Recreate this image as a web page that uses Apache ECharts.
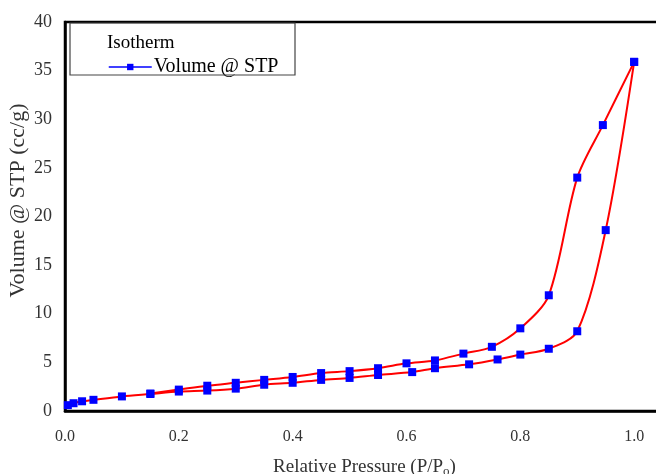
<!DOCTYPE html>
<html>
<head>
<meta charset="utf-8">
<script src="https://cdn.jsdelivr.net/npm/echarts@6/dist/echarts.min.js"></script>
<style>
  html, body { margin: 0; padding: 0; background: #fff; }
  #chart { width: 656px; height: 474px; }
</style>
</head>
<body>
<div id="chart"></div>
<script>
// Nitrogen isotherm: adsorption (rising) and desorption (falling) branches
const adsorptionP = [0.005, 0.015, 0.03, 0.05, 0.10, 0.15, 0.20, 0.25, 0.30, 0.35, 0.40, 0.45, 0.50, 0.55, 0.61, 0.65, 0.71, 0.76, 0.80, 0.85, 0.90, 0.95, 1.00];
const adsorptionV = [0.6, 0.8, 1.0, 1.15, 1.5, 1.75, 2.0, 2.1, 2.3, 2.7, 2.9, 3.2, 3.4, 3.7, 4.0, 4.4, 4.8, 5.3, 5.8, 6.4, 8.2, 18.6, 35.9];
const desorptionP = [1.00, 0.945, 0.90, 0.85, 0.80, 0.75, 0.70, 0.65, 0.60, 0.55, 0.50, 0.45, 0.40, 0.35, 0.30, 0.25, 0.20, 0.15];
const desorptionV = [35.9, 29.4, 24.0, 11.9, 8.5, 6.6, 5.9, 5.2, 4.9, 4.4, 4.1, 3.9, 3.5, 3.2, 2.9, 2.6, 2.2, 1.8];
const xTicks = [0.0, 0.2, 0.4, 0.6, 0.8, 1.0];
const seriesName = 'Volume @ STP';
const legendTitle = 'Isotherm';

const pairs = (xs, ys) => xs.map((x, i) => [x, ys[i]]);
const serif = '"Liberation Serif", "DejaVu Serif", serif';

const lineStyle = { color: '#ff0000', width: 2 };
const markStyle = { color: '#0000ff' };

const chart = echarts.init(document.getElementById('chart'), null, { renderer: 'canvas' });
chart.setOption({
  animation: false,
  backgroundColor: '#ffffff',
  // plot frame runs past the right edge of the canvas
  grid: {
    left: 65, top: 22, width: 683, height: 389,
    outerBoundsMode: 'none', containLabel: false,
    show: true, borderColor: '#000', borderWidth: 2.5, backgroundColor: 'transparent'
  },
  title: {
    text: legendTitle, left: 102, top: 29,
    textStyle: { fontFamily: serif, fontSize: 19, fontWeight: 'normal', color: '#000' }
  },
  legend: {
    data: [seriesName], left: 103, top: 52, itemWidth: 43, itemHeight: 8, itemGap: 4,
    textStyle: { fontFamily: serif, fontSize: 20, color: '#000', padding: [0, 0, 0, -3] },
    lineStyle: { color: '#0000ff', width: 1.5 },
    itemStyle: { color: '#0000ff' }
  },
  graphic: [{
    type: 'rect', shape: { x: 70, y: 23, width: 225, height: 52 },
    style: { fill: 'transparent', stroke: '#444', lineWidth: 1.2 }, z: 10
  }],
  xAxis: {
    type: 'value', min: 0, max: 1.2, interval: 0.2,
    name: '{m|Relative Pressure (P/P}{s|o}{m|)}', nameLocation: 'middle', nameGap: 45,
    nameMoveOverlap: false,
    nameTextStyle: {
      padding: [0, 84, 0, 0],
      rich: {
        m: { fontFamily: serif, fontSize: 19, color: '#333' },
        s: { fontFamily: serif, fontSize: 13, color: '#333', verticalAlign: 'bottom', padding: [9, 0, 0, 0] }
      }
    },
    axisLine: { show: true, lineStyle: { color: '#000', width: 2.5 } },
    axisTick: { show: false },
    splitLine: { show: false },
    axisLabel: {
      fontFamily: serif, fontSize: 16, color: '#333', margin: 18,
      formatter: v => (xTicks.some(t => Math.abs(t - v) < 1e-9) ? v.toFixed(1) : '')
    }
  },
  yAxis: {
    type: 'value', min: 0, max: 40, interval: 5,
    name: 'Volume @ STP (cc/g)', nameLocation: 'middle', nameGap: 36,
    nameMoveOverlap: false,
    nameTextStyle: { fontFamily: serif, fontSize: 22, color: '#333', padding: [0, 0, 0, 32] },
    axisLine: { show: true, lineStyle: { color: '#000', width: 2.5 } },
    axisTick: { show: false },
    splitLine: { show: false },
    axisLabel: { fontFamily: serif, fontSize: 18, color: '#333', margin: 13 }
  },
  series: [
    {
      name: seriesName, type: 'line', data: pairs(adsorptionP, adsorptionV),
      smooth: 0.3, symbol: 'rect', symbolSize: 8, showAllSymbol: true,
      lineStyle: lineStyle, itemStyle: markStyle
    },
    {
      name: seriesName, type: 'line', data: pairs(desorptionP, desorptionV),
      smooth: 0.3, symbol: 'rect', symbolSize: 8, showAllSymbol: true,
      lineStyle: lineStyle, itemStyle: markStyle
    }
  ]
});
</script>
</body>
</html>
